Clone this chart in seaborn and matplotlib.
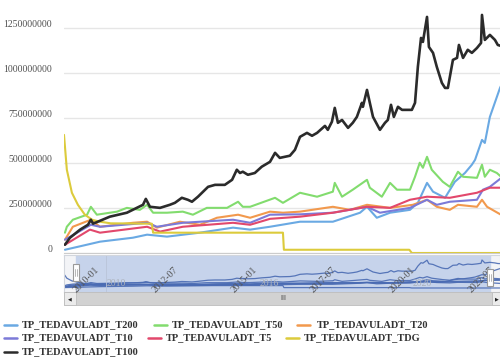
import matplotlib
matplotlib.use("Agg")
import matplotlib.pyplot as plt
from matplotlib.lines import Line2D
from matplotlib.patches import Rectangle
from matplotlib.transforms import ScaledTranslation, blended_transform_factory
import pandas as pd
import seaborn as sns

# --- data (values in millions, x in decimal years) ---
t200_years = [2009.05, 2009.62, 2010.16, 2011.20, 2011.65, 2012.28, 2013.32, 2014.37, 2014.91,
              2015.54, 2016.49, 2017.53, 2018.39, 2018.61, 2018.92, 2019.34, 2019.97, 2020.22,
              2020.51, 2020.70, 2021.08, 2021.39, 2021.71, 2021.93, 2022.03, 2022.25, 2022.34,
              2022.50, 2022.82, 2022.88]
t200_vals = [18, 41, 63, 85, 102, 91, 113, 141, 130,
             146, 174, 174, 224, 257, 196, 224, 240, 279,
             390, 341, 307, 396, 445, 491, 518, 629, 612,
             757, 918, 940]

t50_years = [2009.05, 2009.11, 2009.30, 2009.75, 2009.87, 2010.06, 2010.70, 2011.01, 2011.42,
             2011.65, 2011.84, 2012.28, 2012.78, 2013.10, 2013.54, 2014.18, 2014.53, 2014.68,
             2014.91, 2015.70, 2015.95, 2016.49, 2017.03, 2017.53, 2017.59, 2017.82, 2018.16,
             2018.61, 2018.70, 2019.08, 2019.34, 2019.56, 2019.97, 2020.13, 2020.28, 2020.38,
             2020.51, 2020.66, 2021.01, 2021.23, 2021.49, 2021.65, 2022.09, 2022.25, 2022.34,
             2022.50, 2022.72, 2022.88]
t50_vals = [113, 146, 185, 213, 257, 213, 230, 251, 240,
            268, 224, 224, 230, 213, 251, 251, 285, 257,
            257, 307, 279, 335, 313, 341, 390, 313, 352,
            407, 363, 313, 390, 352, 352, 424, 502, 474,
            535, 463, 396, 368, 452, 424, 418, 491, 424,
            463, 445, 420]

t20_years = [2009.05, 2009.30, 2009.87, 2010.16, 2011.20, 2011.65, 2011.96, 2012.69, 2013.32,
             2013.86, 2014.53, 2014.91, 2015.54, 2015.95, 2016.49, 2017.53, 2018.07, 2018.61,
             2019.34, 2020.06, 2020.51, 2020.82, 2021.23, 2021.49, 2022.09, 2022.25, 2022.41,
             2022.88]
t20_vals = [74, 146, 185, 146, 168, 174, 141, 174, 157,
            196, 213, 196, 230, 224, 230, 257, 240, 268,
            251, 268, 296, 257, 240, 268, 257, 296, 257,
            210]

t10_years = [2009.05, 2009.87, 2010.16, 2011.65, 2011.96, 2012.78, 2014.37, 2014.91, 2015.54,
             2016.49, 2017.53, 2018.61, 2019.02, 2019.97, 2020.51, 2020.82, 2021.23, 2022.09,
             2022.28, 2022.50, 2022.88]
t10_vals = [74, 157, 146, 168, 146, 168, 185, 168, 213,
            215, 224, 257, 224, 251, 296, 268, 285, 296,
            352, 368, 420]

t5_years = [2009.05, 2009.84, 2010.16, 2011.65, 2012.06, 2012.78, 2014.37, 2014.91, 2015.54,
            2016.49, 2017.53, 2018.61, 2019.34, 2019.97, 2020.51, 2021.23, 2022.09, 2022.50,
            2022.88]
t5_vals = [46, 130, 113, 146, 119, 146, 168, 157, 190,
           202, 224, 257, 251, 296, 313, 307, 335, 363,
           363]

tdg_years = [2009.02, 2009.11, 2009.27, 2009.46, 2009.68, 2009.91, 2010.16, 2010.50, 2011.80,
             2011.84, 2015.95, 2015.98, 2019.95, 2020.03, 2022.88]
tdg_vals = [657, 463, 335, 268, 213, 185, 174, 165, 163,
            113, 113, 18, 18, 0, 0]

t100_years = [2009.05, 2009.21, 2009.53, 2009.78, 2009.87, 2009.94, 2010.47, 2011.01, 2011.52,
              2011.61, 2011.74, 2012.06, 2012.37, 2012.53, 2012.75, 2012.94, 2013.07, 2013.26,
              2013.58, 2013.80, 2014.11, 2014.34, 2014.49, 2014.59, 2014.68, 2014.84, 2015.06,
              2015.28, 2015.54, 2015.70, 2015.85, 2016.17, 2016.33, 2016.49, 2016.71, 2016.87,
              2017.03, 2017.28, 2017.37, 2017.50, 2017.59, 2017.69, 2017.82, 2018.01, 2018.16,
              2018.29, 2018.45, 2018.48, 2018.61, 2018.70, 2018.80, 2019.02, 2019.18, 2019.27,
              2019.37, 2019.46, 2019.59, 2019.72, 2020.03, 2020.13, 2020.22, 2020.32, 2020.38,
              2020.51, 2020.57, 2020.70, 2020.82, 2020.98, 2021.08, 2021.17, 2021.33, 2021.46,
              2021.52, 2021.65, 2021.80, 2021.93, 2022.09, 2022.22, 2022.25, 2022.34, 2022.50,
              2022.66, 2022.75, 2022.88]
t100_vals = [46, 85, 130, 157, 185, 163, 202, 224, 268,
             301, 257, 251, 268, 279, 307, 296, 285, 313,
             368, 379, 379, 407, 463, 445, 452, 435, 445,
             480, 507, 557, 529, 541, 574, 646, 668, 652,
             668, 707, 685, 730, 807, 724, 740, 696, 724,
             757, 835, 813, 907, 835, 757, 685, 724, 740,
             824, 757, 813, 796, 796, 835, 1035, 1196, 1174,
             1313, 1146, 1113, 1035, 946, 918, 918, 1074, 1085,
             1157, 1085, 1130, 1113, 1140, 1168, 1324, 1185, 1213,
             1185, 1157, 1150]

series_names = ["TP_TEDAVULADT_T200", "TP_TEDAVULADT_T50", "TP_TEDAVULADT_T20",
                "TP_TEDAVULADT_T10", "TP_TEDAVULADT_T5", "TP_TEDAVULADT_TDG",
                "TP_TEDAVULADT_T100"]
series_data = [(t200_years, t200_vals), (t50_years, t50_vals), (t20_years, t20_vals),
               (t10_years, t10_vals), (t5_years, t5_vals), (tdg_years, tdg_vals),
               (t100_years, t100_vals)]

y_ticks = [0, 250, 500, 750, 1000, 1250]
y_labels = ["0", "250000000", "500000000", "750000000", "1000000000", "1250000000"]
x_ticks = [2010.0, 2012.5, 2015.0, 2017.5, 2020.0, 2022.5]
x_labels = ["2010-01", "2012-07", "2015-01", "2017-07", "2020-01", "2022-07"]
slider_labels = [(2010.38, "2010"), (2015.22, "2016"), (2020.06, "2020")]
selection = (2009.40, 2022.50)

colors = ["#6aa9e3", "#82dc6e", "#f2994d", "#7c7ad8", "#e2486c", "#dccb3c", "#2b2b2b"]
widths = [1.5, 1.5, 1.5, 1.5, 1.5, 1.5, 1.9]

# long table for seaborn
rows = []
for name, (xs, vs) in zip(series_names, series_data):
    for x, v in zip(xs, vs):
        rows.append({"series": name, "year": x, "value": v})
df = pd.DataFrame(rows)

sns.set_style("white")
plt.rcParams["font.family"] = ["Liberation Serif", "DejaVu Sans"]

W, H = 500, 362
fig = plt.figure(figsize=(5, 3.62), dpi=100)
fig.patch.set_facecolor("white")


def fx(x):
    return x / W


def fy(y):
    return 1 - y / H


xlim = (2009.02, 2022.82)

# main chart
ax = fig.add_axes([fx(64), fy(253), fx(500) - fx(64), fy(0) - fy(253)])
for name, c, lw in zip(series_names, colors, widths):
    sns.lineplot(data=df[df["series"] == name], x="year", y="value", color=c,
                 linewidth=lw, estimator=None, sort=False, ax=ax)
ax.set_xlim(*xlim)
ax.set_ylim(0, 1407)
ax.set_xlabel("")
ax.set_ylabel("")
ax.set_yticks(y_ticks)
ax.set_yticklabels(y_labels)
ax.yaxis.grid(True, color="#e6e6e6", linewidth=1)
ax.set_axisbelow(True)
for s in ["top", "right", "left"]:
    ax.spines[s].set_visible(False)
ax.spines["bottom"].set_color("#cccccc")
ax.tick_params(axis="y", length=0, pad=8.5, labelsize=7, labelcolor="#505050")
for lbl in ax.get_yticklabels():
    lbl.set_transform(lbl.get_transform() + ScaledTranslation(0, 5 / 100, fig.dpi_scale_trans))
ax.set_xticks(x_ticks)
ax.set_xticklabels(x_labels)
ax.tick_params(axis="x", length=7, color="#cccccc", pad=2, labelsize=7, labelcolor="#555555")
for lbl in ax.get_xticklabels():
    lbl.set_rotation(45)
    lbl.set_ha("right")
    lbl.set_va("top")
    lbl.set_rotation_mode("anchor")
ax.set_zorder(5)

# data zoom slider
sl = fig.add_axes([fx(64), fy(292), fx(500) - fx(64), fy(255) - fy(292)])
sl.set_facecolor("#f3f4f7")
for s in sl.spines.values():
    s.set_color("#d2d6dd")
sl.axvspan(*selection, color="#c6d3eb", zorder=0)
for name in series_names:
    sns.lineplot(data=df[df["series"] == name], x="year", y="value", color="#4a6bb3",
                 linewidth=0.9, alpha=0.9, estimator=None, sort=False, ax=sl)
sl.set_xlim(*xlim)
sl.set_ylim(-190, 1560)
sl.set_xticks([])
sl.set_yticks([])
sl.set_xlabel("")
sl.set_ylabel("")
tr = blended_transform_factory(sl.transData, sl.transAxes)
sl.axvline(2010.35, color="#b9c4d8", linewidth=0.6)
for x, t in slider_labels:
    sl.text(x, 0.22, t, transform=tr, fontsize=7, color="#aab0ba", va="center", ha="left")

# slider handles
for hx, hy in [(76, 264), (490, 269)]:
    fig.patches.append(Rectangle((fx(hx - 3), fy(hy + 17)), fx(6), 17 / H,
                                 transform=fig.transFigure, facecolor="white",
                                 edgecolor="#9a9a9a", linewidth=0.8, zorder=6))
    for dx in (-1, 1):
        fig.lines.append(Line2D([fx(hx + dx), fx(hx + dx)], [fy(hy + 5), fy(hy + 12)],
                                transform=fig.transFigure, color="#9a9a9a", linewidth=0.5, zorder=7))

# scrollbar
fig.patches.append(Rectangle((fx(64), fy(305)), fx(436), 13 / H, transform=fig.transFigure,
                             facecolor="#d2d2d2", edgecolor="#bdbdbd", linewidth=0.6))
fig.patches.append(Rectangle((fx(64), fy(305)), fx(12), 13 / H, transform=fig.transFigure,
                             facecolor="#ebebeb", edgecolor="#bdbdbd", linewidth=0.6))
fig.patches.append(Rectangle((fx(492), fy(305)), fx(10), 13 / H, transform=fig.transFigure,
                             facecolor="#ebebeb", edgecolor="#bdbdbd", linewidth=0.6))
fig.text(fx(70), fy(298.5), "◀", fontsize=3.5, ha="center", va="center", color="#222222",
         family="DejaVu Sans")
fig.text(fx(497), fy(298.5), "▶", fontsize=3.5, ha="center", va="center", color="#222222",
         family="DejaVu Sans")
fig.text(fx(283), fy(298.5), "III", fontsize=5, ha="center", va="center", color="#444444",
         family="DejaVu Sans")

# legend
legend_pos = [(4, 22, 325), (154, 172, 325), (297, 317, 325),
              (4, 22, 338), (148, 166, 338), (286, 304, 338),
              (4, 22, 352)]
for name, c, (lx, tx, ly) in zip(series_names, colors, legend_pos):
    fig.lines.append(Line2D([fx(lx), fx(lx + 13)], [fy(ly), fy(ly)], transform=fig.transFigure,
                            color=c, linewidth=1.8))
    fig.text(fx(tx), fy(ly), name, fontsize=7.5, fontweight="bold", color="#333333",
             ha="left", va="center")

fig.savefig("out.png", dpi=100)
